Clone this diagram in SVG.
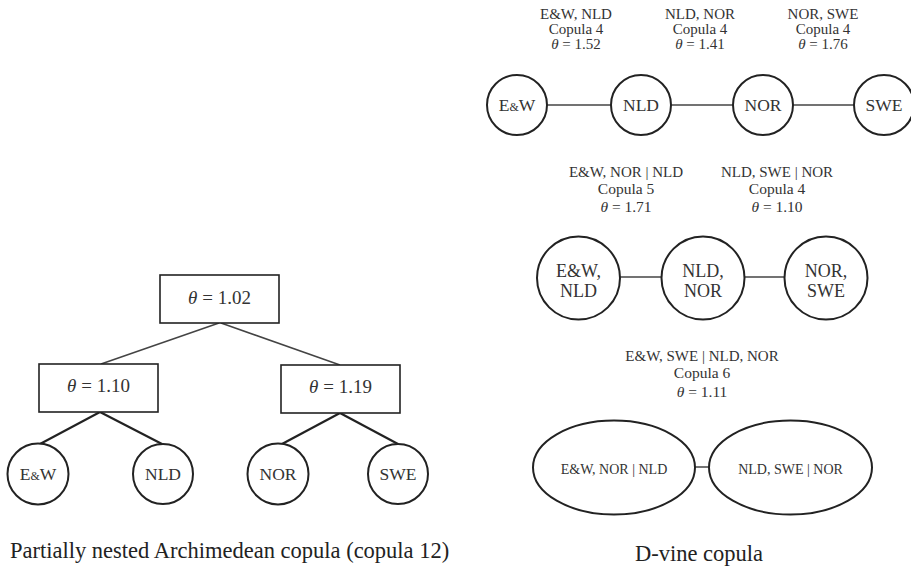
<svg xmlns="http://www.w3.org/2000/svg" width="911" height="570" viewBox="0 0 911 570" font-family="'Liberation Serif', Tinos, 'Times New Roman', 'DejaVu Serif', serif">
<style>
text{font-family:'Liberation Serif',Tinos,'Times New Roman','DejaVu Serif',serif;fill:#333;text-anchor:middle}
.box{fill:#fff;stroke:#222;stroke-width:1.6}
.nd{fill:#fff;stroke:#222;stroke-width:2}
.thin{stroke:#444;stroke-width:1.5;fill:none}
.thick{stroke:#222;stroke-width:2.2;fill:none}
.lbl{font-size:15.5px}
.lbl1{font-size:15px}
.lblc{font-size:15px}
.bt{font-size:19px}
.nt{font-size:17.5px}
.nt2{font-size:18px}
.et{font-size:14px}
.cap{font-size:22.5px;fill:#222}
.amp{font-size:12px}
</style>
<g id="connectors">
<line class="thin" x1="219" y1="323" x2="101" y2="364"/>
<line class="thin" x1="221" y1="323" x2="340" y2="365"/>
<line class="thick" x1="100" y1="412" x2="40" y2="444"/>
<line class="thick" x1="100" y1="412" x2="162" y2="444"/>
<line class="thick" x1="340" y1="413" x2="282" y2="444"/>
<line class="thick" x1="340" y1="413" x2="398" y2="444"/>
<line class="thin" x1="547" y1="105" x2="611" y2="105"/>
<line class="thin" x1="671" y1="105" x2="733" y2="105"/>
<line class="thin" x1="793" y1="105" x2="854" y2="105"/>
<line class="thin" x1="620" y1="277" x2="662" y2="277"/>
<line class="thin" x1="744" y1="277" x2="785" y2="277"/>
<line class="thin" x1="695" y1="467" x2="709" y2="467"/>
</g>
<g id="pnac-root"><rect class="box" x="160" y="275" width="119" height="48"/><text class="bt" x="219.5" y="304"><tspan font-style="italic">θ</tspan> = 1.02</text></g>
<g id="pnac-left"><rect class="box" x="39" y="364" width="119" height="48"/><text class="bt" x="98.5" y="392"><tspan font-style="italic">θ</tspan> = 1.10</text></g>
<g id="pnac-right"><rect class="box" x="281" y="365" width="119" height="48"/><text class="bt" x="340.5" y="393"><tspan font-style="italic">θ</tspan> = 1.19</text></g>
<g id="pnac-ew"><circle class="nd" cx="38" cy="474" r="30.5"/><text class="nt" x="38" y="480">E<tspan class="amp">&amp;</tspan>W</text></g>
<g id="pnac-nld"><circle class="nd" cx="163" cy="474" r="30"/><text class="nt" x="163" y="480">NLD</text></g>
<g id="pnac-nor"><circle class="nd" cx="278" cy="474" r="30.5"/><text class="nt" x="278" y="480">NOR</text></g>
<g id="pnac-swe"><circle class="nd" cx="398" cy="474" r="30"/><text class="nt" x="398" y="480">SWE</text></g>
<text class="cap" x="10" y="558" style="text-anchor:start">Partially nested Archimedean copula (copula 12)</text>
<g id="t1-labels">
<text class="lbl1" x="576" y="18.5">E&amp;W, NLD</text><text class="lbl1" x="576" y="33.5">Copula 4</text><text class="lbl1" x="576" y="49"><tspan font-style="italic">θ</tspan> = 1.52</text>
<text class="lbl1" x="700" y="18.5">NLD, NOR</text><text class="lbl1" x="700" y="33.5">Copula 4</text><text class="lbl1" x="700" y="49"><tspan font-style="italic">θ</tspan> = 1.41</text>
<text class="lbl1" x="823" y="18.5">NOR, SWE</text><text class="lbl1" x="823" y="33.5">Copula 4</text><text class="lbl1" x="823" y="49"><tspan font-style="italic">θ</tspan> = 1.76</text>
</g>
<g id="t1-ew"><circle class="nd" cx="517" cy="105" r="30"/><text class="nt" x="517" y="111">E<tspan class="amp">&amp;</tspan>W</text></g>
<g id="t1-nld"><circle class="nd" cx="641" cy="105" r="30"/><text class="nt" x="641" y="111">NLD</text></g>
<g id="t1-nor"><circle class="nd" cx="763" cy="105" r="30"/><text class="nt" x="763" y="111">NOR</text></g>
<g id="t1-swe"><circle class="nd" cx="884" cy="105" r="30"/><text class="nt" x="884" y="111">SWE</text></g>
<g id="t2-labels">
<text class="lblc" x="626" y="177">E&amp;W, NOR | NLD</text><text class="lbl" x="626" y="194">Copula 5</text><text class="lbl" x="626" y="212"><tspan font-style="italic">θ</tspan> = 1.71</text>
<text class="lblc" x="777" y="177">NLD, SWE | NOR</text><text class="lbl" x="777" y="194">Copula 4</text><text class="lbl" x="777" y="212"><tspan font-style="italic">θ</tspan> = 1.10</text>
</g>
<g id="t2-ewnld"><circle class="nd" cx="578.5" cy="278" r="41.5"/><text class="nt2" x="578.5" y="277">E&amp;W,</text><text class="nt2" x="578.5" y="297">NLD</text></g>
<g id="t2-nldnor"><circle class="nd" cx="703" cy="278" r="41.5"/><text class="nt2" x="703" y="277">NLD,</text><text class="nt2" x="703" y="297">NOR</text></g>
<g id="t2-norswe"><circle class="nd" cx="826" cy="278" r="41.5"/><text class="nt2" x="826" y="277">NOR,</text><text class="nt2" x="826" y="297">SWE</text></g>
<g id="t3-labels">
<text class="lblc" x="702" y="361">E&amp;W, SWE | NLD, NOR</text><text class="lbl" x="702" y="378">Copula 6</text><text class="lbl" x="702" y="397"><tspan font-style="italic">θ</tspan> = 1.11</text>
</g>
<g id="t3-left"><ellipse class="nd" cx="614" cy="467.5" rx="81" ry="47"/><text class="et" x="614" y="474">E&amp;W, NOR | NLD</text></g>
<g id="t3-right"><ellipse class="nd" cx="790.5" cy="467.5" rx="81.5" ry="47"/><text class="et" x="790.5" y="474">NLD, SWE | NOR</text></g>
<text class="cap" x="699" y="561">D-vine copula</text>
</svg>
